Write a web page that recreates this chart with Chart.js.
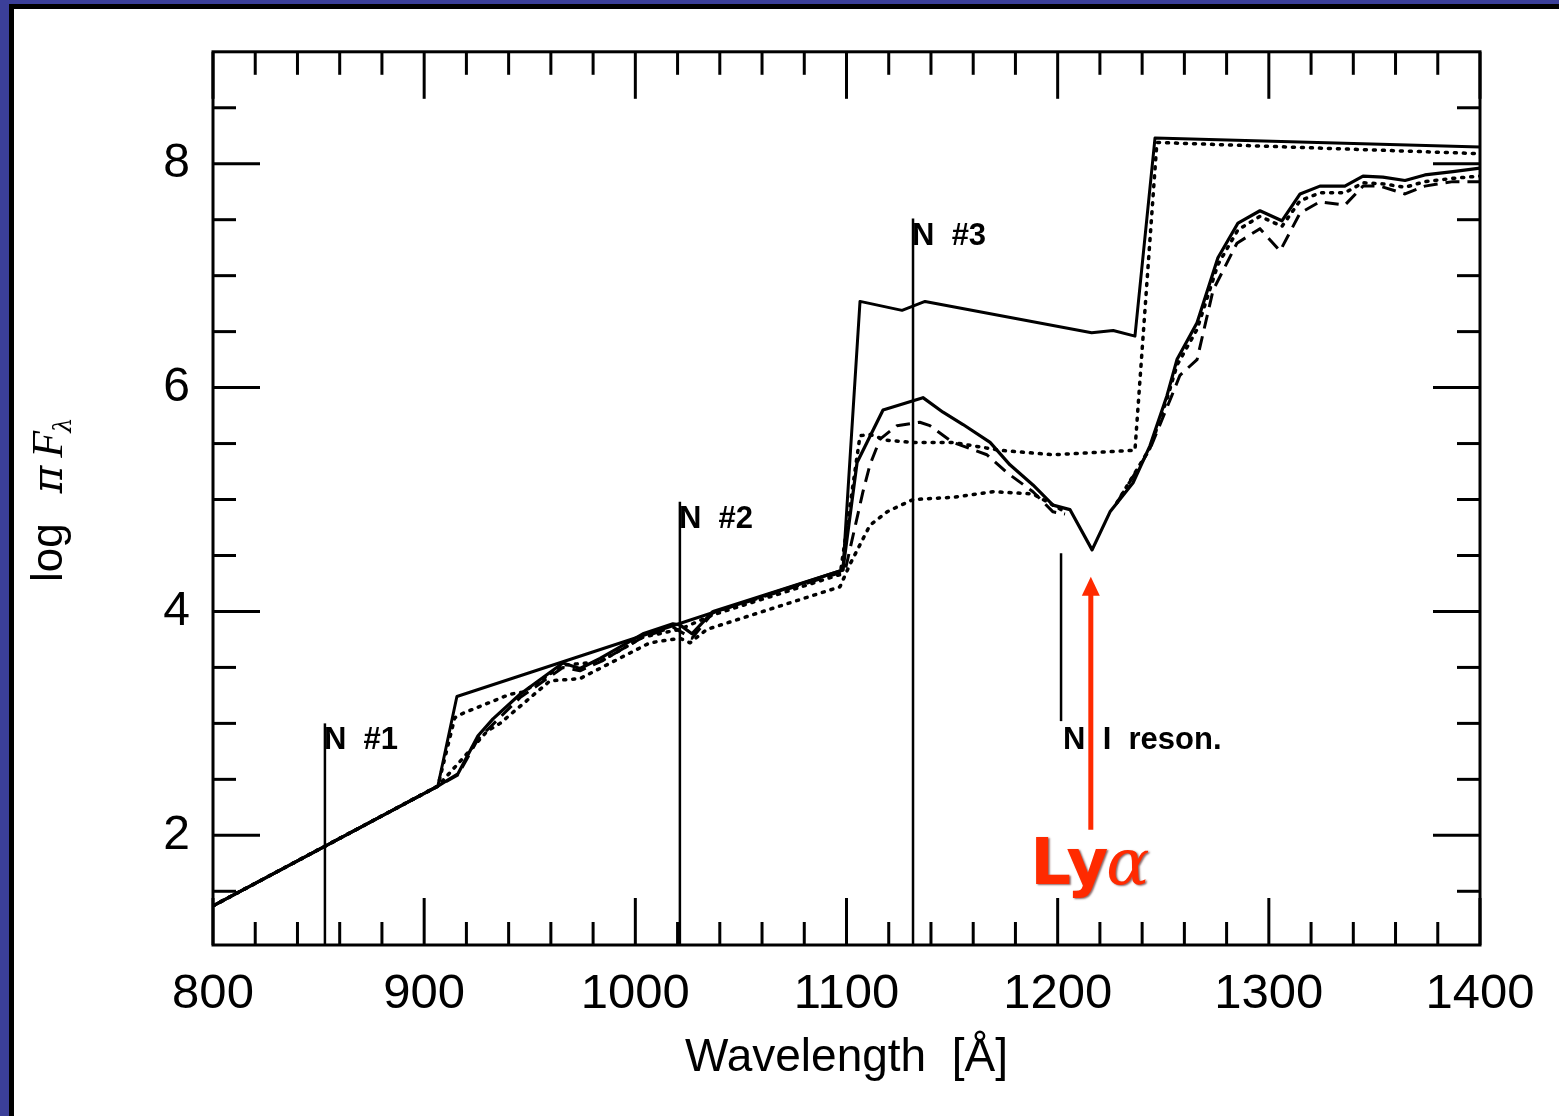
<!DOCTYPE html>
<html><head><meta charset="utf-8">
<script src="https://cdn.jsdelivr.net/npm/chart.js@4.4.1/dist/chart.umd.min.js"></script>
<style>
html,body{margin:0;padding:0;background:#fff;overflow:hidden}
#wrap{position:relative;width:1559px;height:1116px;background:#fff}
canvas{position:absolute;left:0;top:0}
.b{position:absolute}
</style></head><body>
<div id="wrap">
<canvas id="c" width="1559" height="1116"></canvas>
<div class="b" style="left:0;top:0;width:1559px;height:4px;background:#3b3f99"></div>
<div class="b" style="left:0;top:0;width:9px;height:1116px;background:#3b3f99"></div>
<div class="b" style="left:9px;top:4px;width:1550px;height:5px;background:#000"></div>
<div class="b" style="left:9px;top:4px;width:5px;height:1112px;background:#000"></div>
</div>
<script>
// ---------- data (wavelength in Å, log πF_λ) ----------
const envWl  = [800, 906.5, 915.5, 1098.3, 1106.4, 1126.3, 1137.2, 1216.1, 1226.3, 1236.6, 1246.1, 1400];
const envLog = [1.37, 2.44, 3.24, 4.37, 6.77, 6.69, 6.77, 6.49, 6.51, 6.46, 8.23, 8.15];

const mainWl  = [800, 906.5, 916, 925.5, 932.6, 945.4, 965.7, 973.8, 983.3, 1003.6, 1017.8, 1021.1, 1026.8, 1036.8, 1098.3,
                 1105, 1117.3, 1136.2, 1145.7, 1155.2, 1168, 1177.4, 1188.3, 1197.8, 1205.8, 1216.3, 1224.8, 1235.7, 1243.7,
                 1251.8, 1256.5, 1266, 1275.9, 1285.4, 1295.8, 1306.2, 1314.8, 1324.2, 1336, 1344.6, 1354, 1364.5, 1373.9, 1387.2, 1400];
const mainLog = [1.37, 2.44, 2.55, 2.89, 3.04, 3.26, 3.54, 3.49, 3.58, 3.80, 3.89, 3.88, 3.80, 4.00, 4.37,
                 5.33, 5.80, 5.91, 5.78, 5.67, 5.51, 5.31, 5.13, 4.95, 4.91, 4.55, 4.89, 5.15, 5.48,
                 5.93, 6.25, 6.58, 7.16, 7.47, 7.58, 7.49, 7.73, 7.80, 7.80, 7.89, 7.88, 7.85, 7.90, 7.93, 7.96];

const dashWl  = [800, 906.5, 916, 925.5, 945.4, 965.7, 973.8, 983.3, 1003.6, 1017.8, 1026.8, 1036.8, 1099.3,
                 1107.8, 1111.1, 1115.9, 1123.9, 1134.7, 1139.5, 1150.4, 1166.5, 1176, 1188.3, 1197.8, 1203.5, 1215,
                 1228, 1243.7, 1254.1, 1257.9, 1266, 1273.6, 1284.9, 1295.8, 1305.3, 1314.8, 1324.2, 1336, 1344.6, 1352.6, 1364.5, 1373.9, 1387.2, 1400];
const dashLog = [1.37, 2.44, 2.54, 2.86, 3.23, 3.50, 3.47, 3.55, 3.77, 3.86, 3.76, 3.99, 4.36,
                 5.07, 5.31, 5.54, 5.66, 5.69, 5.66, 5.51, 5.40, 5.24, 5.07, 4.89, 4.87, null,
                 4.97, 5.45, 5.93, 6.11, 6.25, 6.87, 7.29, 7.42, 7.22, 7.56, 7.66, 7.63, 7.80, 7.80, 7.73, 7.80, 7.84, 7.84];

const dotUpWl  = [800, 906.5, 914.5, 918.4, 940.6, 947, 965.7, 983.3, 1003.6, 1021.1, 1036.8, 1097,
                  1106.4, 1111.1, 1119.2, 1131.4, 1150.4, 1172.7, 1197.8, 1236.6, 1247, 1400];
const dotUpLog = [1.37, 2.44, 3.05, 3.09, 3.26, 3.28, 3.52, 3.55, 3.77, 3.84, 3.97, 4.33,
                  5.57, 5.58, 5.53, 5.51, 5.51, 5.44, 5.40, 5.44, 8.19, 8.09];

const dotLoWl  = [800, 906.5, 929.8, 935.9, 959.6, 973.8, 1006.9, 1021.1, 1025.9, 1033.9, 1096.9,
                  1101.6, 1111.1, 1119.2, 1131.5, 1150.4, 1169.4, 1188.3, 1197.8, 1203.5, 1215,
                  1228, 1243.7, 1251.8, 1256.5, 1266, 1275.9, 1285.4, 1295.8, 1306.2, 1314.8, 1324.2, 1336, 1344.6, 1354, 1364.5, 1373.9, 1387.2, 1400];
const dotLoLog = [1.37, 2.44, 2.93, 3.00, 3.38, 3.40, 3.72, 3.76, 3.72, 3.84, 4.22,
                  4.42, 4.77, 4.89, 5.00, 5.02, 5.07, 5.05, 4.95, 4.89, null,
                  4.97, 5.46, 5.90, 6.20, 6.52, 7.10, 7.41, 7.53, 7.44, 7.67, 7.74, 7.74, 7.83, 7.82, 7.79, 7.84, 7.87, 7.89];

// edge markers
const markerWl     = [853, 1021.1, 1131.5, 1201.6];
const markerTop    = [3.0, 4.98, 7.51, 4.52];
const markerBottom = [1.02, 1.02, 1.02, 3.02];
const markerLabels = ['N  #1', 'N  #2', 'N  #3', 'N  I  reson.'];
const markerLabelBelow = [false, false, false, true];

// Lyman alpha arrow
const lyaWl = 1215.7;
const lyaBase = 2.05;
const lyaTip = 4.31;

// ticks
const xTicks = [800, 820, 840, 860, 880, 900, 920, 940, 960, 980, 1000, 1020, 1040, 1060, 1080, 1100,
                1120, 1140, 1160, 1180, 1200, 1220, 1240, 1260, 1280, 1300, 1320, 1340, 1360, 1380, 1400];
const xMajor = [800, 900, 1000, 1100, 1200, 1300, 1400];
const yTicks = [1.5, 2, 2.5, 3, 3.5, 4, 4.5, 5, 5.5, 6, 6.5, 7, 7.5, 8, 8.5];
const yMajor = [2, 4, 6, 8];

function pts(xs, ys) { return xs.map((x, i) => ({x: x, y: ys[i]})); }

const black = '#000';
const tickFont = 'Liberation Sans, Arial, sans-serif';

const framePlugin = {
  id: 'frame',
  afterDatasetsDraw(chart) {
    const {ctx, chartArea: a, scales: {x, y}} = chart;
    ctx.save();
    ctx.strokeStyle = black;
    ctx.lineWidth = 3;
    ctx.lineCap = 'butt';
    ctx.strokeRect(a.left, a.top, a.right - a.left, a.bottom - a.top);
    // inward ticks on all four sides
    ctx.lineWidth = 3;
    xTicks.forEach(v => {
      const px = x.getPixelForValue(v);
      const len = xMajor.includes(v) ? 47 : 23;
      ctx.beginPath(); ctx.moveTo(px, a.bottom); ctx.lineTo(px, a.bottom - len); ctx.stroke();
      ctx.beginPath(); ctx.moveTo(px, a.top); ctx.lineTo(px, a.top + len); ctx.stroke();
    });
    yTicks.forEach(v => {
      const py = y.getPixelForValue(v);
      const len = yMajor.includes(v) ? 47 : 23;
      ctx.beginPath(); ctx.moveTo(a.left, py); ctx.lineTo(a.left + len, py); ctx.stroke();
      ctx.beginPath(); ctx.moveTo(a.right, py); ctx.lineTo(a.right - len, py); ctx.stroke();
    });
    // marker lines and labels
    ctx.lineWidth = 2.5;
    ctx.fillStyle = black;
    ctx.font = 'bold 31px Liberation Sans, Arial, sans-serif';
    ctx.textAlign = 'left';
    ctx.textBaseline = 'alphabetic';
    markerWl.forEach((w, i) => {
      const px = x.getPixelForValue(w);
      const pt = y.getPixelForValue(markerTop[i]);
      const pb = y.getPixelForValue(markerBottom[i]);
      ctx.beginPath(); ctx.moveTo(px, pb); ctx.lineTo(px, pt); ctx.stroke();
      const base = markerLabelBelow[i] ? pb + 28 : pt + 26;
      ctx.fillText(markerLabels[i], px + (markerLabelBelow[i] ? 2 : -1), base);
    });
    // y title: log πF_λ
    ctx.save();
    ctx.translate(62, 582);
    ctx.rotate(-Math.PI / 2);
    ctx.textBaseline = 'alphabetic';
    ctx.textAlign = 'left';
    let cx = 0;
    ctx.font = '44px Liberation Sans, Arial, sans-serif';
    ctx.fillText('log', cx, 0); cx += ctx.measureText('log').width + 30;
    ctx.font = 'italic 42px DejaVu Serif, serif';
    ctx.fillText('π', cx, 0); cx += ctx.measureText('π').width + 8;
    ctx.font = 'italic 44px Liberation Serif, serif';
    ctx.fillText('F', cx, 0); cx += ctx.measureText('F').width - 2;
    ctx.font = 'italic 24px DejaVu Serif, serif';
    ctx.fillText('λ', cx, 9);
    ctx.restore();
    // Lyα arrow
    const ax = x.getPixelForValue(lyaWl);
    const ab = y.getPixelForValue(lyaBase);
    const at = y.getPixelForValue(lyaTip);
    ctx.strokeStyle = '#ff2a00';
    ctx.fillStyle = '#ff2a00';
    ctx.lineWidth = 5;
    ctx.beginPath(); ctx.moveTo(ax, ab); ctx.lineTo(ax, at + 16); ctx.stroke();
    ctx.beginPath(); ctx.moveTo(ax, at); ctx.lineTo(ax - 9, at + 19); ctx.lineTo(ax + 9, at + 19); ctx.closePath(); ctx.fill();
    ctx.shadowColor = 'rgba(60,0,0,0.6)';
    ctx.shadowOffsetX = 1.5; ctx.shadowOffsetY = 1.5; ctx.shadowBlur = 2;
    ctx.textAlign = 'left';
    ctx.font = 'bold 64px DejaVu Sans, sans-serif';
    const lyW = ctx.measureText('Ly').width;
    ctx.font = 'italic 64px DejaVu Serif, serif';
    const aW = ctx.measureText('α').width;
    let lx = ax - (lyW + aW) / 2;
    ctx.font = 'bold 64px DejaVu Sans, sans-serif';
    ctx.fillText('Ly', lx, ab + 54);
    ctx.font = 'italic 64px DejaVu Serif, serif';
    ctx.fillText('α', lx + lyW - 2, ab + 54);
    ctx.restore();
  }
};

const ds = (label, xs, ys, dash, width) => ({
  label, data: pts(xs, ys), borderColor: black, backgroundColor: black,
  borderWidth: width, borderDash: dash, pointRadius: 0, tension: 0, spanGaps: false,
  borderCapStyle: dash.length && dash[0] < 5 ? 'round' : 'butt', borderJoinStyle: 'round'
});

new Chart(document.getElementById('c'), {
  type: 'line',
  data: {
    datasets: [
      ds('LTE envelope', envWl, envLog, [], 3),
      ds('upper dotted', dotUpWl, dotUpLog, [2, 7], 3.5),
      ds('lower dotted', dotLoWl, dotLoLog, [2, 7], 3.5),
      ds('dashed', dashWl, dashLog, [14, 8], 3),
      ds('solid', mainWl, mainLog, [], 3.2)
    ]
  },
  options: {
    responsive: false, animation: false, devicePixelRatio: 1,
    layout: {padding: {left: 15, right: 79, top: 48, bottom: 0}},
    plugins: {legend: {display: false}, tooltip: {enabled: false}},
    scales: {
      x: {
        type: 'linear', min: 800, max: 1400,
        afterBuildTicks: s => { s.ticks = xTicks.map(v => ({value: v})); },
        afterFit: s => { s.height = 171; },
        grid: {display: false, drawTicks: false},
        border: {display: false},
        ticks: {
          autoSkip: false, maxRotation: 0, padding: 20, color: black,
          font: {family: tickFont, size: 49},
          callback: v => xMajor.includes(v) ? String(v) : ''
        },
        title: {display: true, text: 'Wavelength  [Å]', color: black,
                font: {family: tickFont, size: 46}, padding: {top: 0, bottom: 30}}
      },
      y: {
        type: 'linear', min: 1.02, max: 9.0,
        afterBuildTicks: s => { s.ticks = yTicks.map(v => ({value: v})); },
        afterFit: s => { s.width = 198; },
        grid: {display: false, drawTicks: false},
        border: {display: false},
        ticks: {
          autoSkip: false, padding: 23, color: black,
          font: {family: tickFont, size: 48},
          callback: v => yMajor.includes(v) ? String(v) : ''
        }
      }
    }
  },
  plugins: [framePlugin]
});
</script>
</body></html>
